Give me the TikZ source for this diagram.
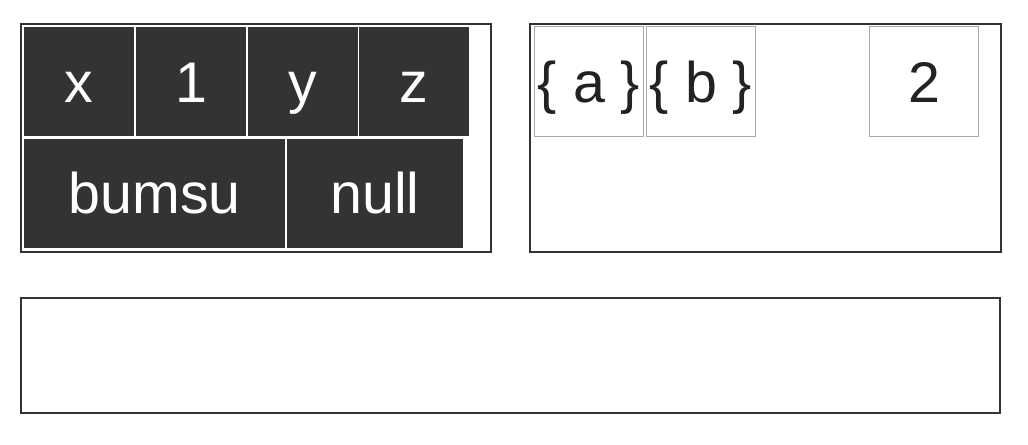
\documentclass[tikz,border=0pt]{standalone}
\usepackage{fontspec}
\setmainfont{Liberation Sans}
\usepackage{xcolor}
\definecolor{cellDark}{RGB}{51,51,51}
\definecolor{cellEdge}{RGB}{170,170,170}
\definecolor{panelEdge}{RGB}{51,51,51}
\definecolor{textDark}{RGB}{34,34,34}

\begin{document}
\begin{tikzpicture}[x=0.75pt,y=0.75pt,yscale=-1,xscale=1,
  panel/.style={draw=panelEdge, line width=1.5pt},
  darkcell/.style={fill=cellDark, text=white, inner sep=0pt, minimum height=82pt,
    text height=31pt, text depth=0pt, font=\fontsize{43}{50}\selectfont},
  lightcell/.style={draw=cellEdge, fill=white, line width=0.75pt, text=textDark, inner sep=0pt,
    minimum width=82pt, minimum height=82pt, text height=31pt, text depth=0pt,
    font=\fontsize{43}{50}\selectfont}]
\useasboundingbox (0,0) rectangle (1028,444);
% panels
\draw [panel] (20.7,23.7) rectangle (490.7,251.7);
\draw [panel] (530,23.7) rectangle (1000.7,251.7);
\draw [panel] (21,298) rectangle (1000,413);
% left panel, first row
\node [darkcell, minimum width=82.5pt] (cx) at (79,81.7) {x};
\node [darkcell, minimum width=82.5pt] (c1) at (191,81.7) {1};
\node [darkcell, minimum width=82.5pt] (cy) at (303,81.7) {y};
\node [darkcell, minimum width=82.5pt] (cz) at (414.3,81.7) {z};
% left panel, second row
\node [darkcell, minimum width=196pt] (cbumsu) at (154.7,193.3) {bumsu};
\node [darkcell, minimum width=131.5pt] (cnull) at (375,193.3) {null};
% right panel
\node [lightcell] (ca) at (589,81.5) {\{ a \}};
\node [lightcell] (cb) at (701,81.5) {\{ b \}};
\node [lightcell] (c2) at (924,81.5) {2};
\end{tikzpicture}
\end{document}
